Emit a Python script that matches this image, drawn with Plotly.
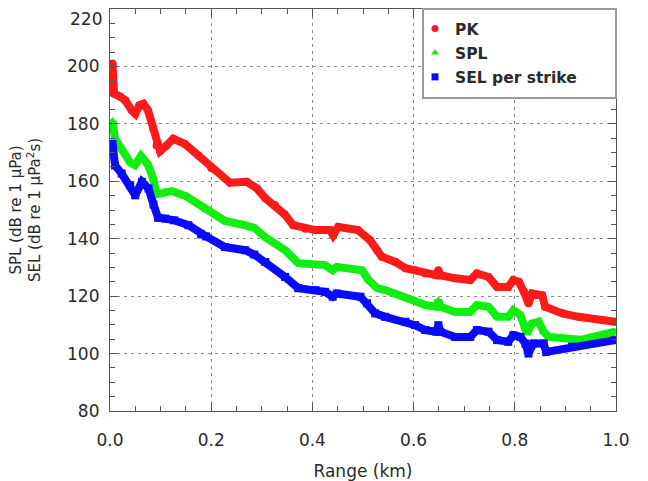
import plotly.graph_objects as go

# Range (km) and levels (dB) for each metric
pk_range = [0.005, 0.008, 0.02, 0.03, 0.043, 0.05, 0.058, 0.066, 0.075, 0.085, 0.092, 0.099,
            0.112, 0.125, 0.148, 0.175, 0.2, 0.237, 0.27, 0.29, 0.307, 0.326, 0.345, 0.362,
            0.386, 0.406, 0.435, 0.441, 0.451, 0.49, 0.514, 0.528, 0.537, 0.564, 0.584, 0.603,
            0.623, 0.645, 0.649, 0.653, 0.682, 0.712, 0.725, 0.748, 0.765, 0.787, 0.797, 0.808,
            0.818, 0.827, 0.834, 0.854, 0.86, 0.894, 0.926, 0.973, 0.998]
pk_level = [201, 190.5, 189.5, 188.2, 184.7, 183.5, 186.5, 187, 184.7, 178.4, 172.5, 170.5,
            172.5, 174.8, 173, 169, 164.6, 159.5, 159.8, 157.6, 154.1, 151.7, 148.5, 144.7,
            143.5, 143, 143, 141.2, 144.1, 143, 139.5, 136, 133.7, 131.9, 129.7, 129,
            127.9, 127.3, 129, 127.3, 126.2, 125.6, 127.9, 126.7, 123.2, 123.2, 125.6, 125,
            121.5, 117.5, 120.9, 120.3, 116.3, 114, 112.8, 111.7, 111.1]

spl_range = [0.005, 0.01, 0.023, 0.04, 0.049, 0.061, 0.075, 0.086, 0.092, 0.108, 0.122, 0.15,
             0.175, 0.19, 0.227, 0.267, 0.285, 0.307, 0.346, 0.372, 0.406, 0.425, 0.44, 0.448,
             0.498, 0.511, 0.528, 0.544, 0.584, 0.603, 0.623, 0.645, 0.649, 0.653, 0.682, 0.712,
             0.725, 0.748, 0.765, 0.787, 0.797, 0.811, 0.824, 0.834, 0.847, 0.857, 0.867, 0.93,
             0.998]
spl_level = [181, 174.8, 171.2, 166.5, 165.6, 168.8, 165.8, 160.6, 155.5, 156.3, 156.6, 154.8,
             152.2, 150, 146.2, 144.7, 143.8, 140.5, 136, 131.5, 130.8, 130.8, 129, 130.2,
             129, 125.6, 122.8, 122.1, 119.5, 118, 116.9, 116.3, 118.6, 116.3, 114.5, 114.5,
             116.9, 116.3, 112.8, 112.8, 115.1, 113.4, 107, 110.5, 111.1, 107.6, 105.8, 104.8,
             107.6]

sel_range = [0.005, 0.01, 0.023, 0.04, 0.05, 0.063, 0.076, 0.086, 0.095, 0.109, 0.127, 0.155,
             0.18, 0.19, 0.227, 0.267, 0.285, 0.307, 0.346, 0.372, 0.406, 0.425, 0.44, 0.448,
             0.495, 0.508, 0.524, 0.544, 0.584, 0.603, 0.623, 0.645, 0.649, 0.653, 0.682, 0.712,
             0.725, 0.748, 0.765, 0.787, 0.797, 0.811, 0.821, 0.827, 0.837, 0.857, 0.862, 0.913,
             0.998]
sel_level = [173, 165.5, 162.7, 158.6, 155.1, 159.8, 157.5, 151.9, 147.3, 147, 146.4, 144.7,
             141.5, 140.8, 137.1, 136, 134.5, 131.9, 126.7, 122.8, 122.1, 121.5, 119.8, 120.9,
             119.8, 117.5, 114, 112.8, 111.1, 109.9, 108.2, 107.6, 109.9, 107.6, 105.8, 105.8,
             108.2, 107.6, 104.7, 104.1, 106.4, 105.8, 103.5, 100, 103.5, 103.5, 100.6, 102.4,
             104.7]

series = [
    ("PK", pk_range, pk_level, "#ff1a1a", "circle"),
    ("SPL", spl_range, spl_level, "#11ee11", "triangle-up"),
    ("SEL per strike", sel_range, sel_level, "#0a0aff", "square"),
]

x_ticks = [0.0, 0.2, 0.4, 0.6, 0.8, 1.0]
y_ticks = [80, 100, 120, 140, 160, 180, 200, 220]

FONT = "DejaVu Sans, Verdana, sans-serif"
TEXT = "#2a2a2a"

fig = go.Figure()
for name, xs, ys, color, symbol in series:
    fig.add_trace(go.Scatter(
        x=xs, y=ys, mode="lines+markers", showlegend=False,
        line=dict(color=color, width=8),
        marker=dict(color=color, size=8, symbol=symbol),
        hoverinfo="skip",
    ))
    # legend entry shown as a marker only
    fig.add_trace(go.Scatter(
        x=[None], y=[None], mode="markers", name=name, legendgroup=name,
        marker=dict(color=color, size=7, symbol=symbol),
    ))

axis_common = dict(
    showline=True, linecolor="#555", linewidth=1.2, mirror="allticks",
    ticks="inside", ticklen=8, tickcolor="#555",
    showgrid=True, gridcolor="#8c8c8c", gridwidth=1, griddash="3px,4px",
    zeroline=False, automargin=False,
    tickfont=dict(family=FONT, size=17, color=TEXT),
)

fig.update_xaxes(
    range=[0, 1.0], tickvals=x_ticks, ticktext=[f"{v:.1f}" for v in x_ticks],
    minor=dict(dtick=0.05, ticks="inside", ticklen=5, tickcolor="#555", showgrid=False),
    title=dict(text="Range (km)", standoff=20,
               font=dict(family=FONT, size=17, color=TEXT)),
    ticklabelstandoff=13,
    **axis_common,
)

# the top label sits just below the frame, so it is written separately
y_text = [str(v) if v != y_ticks[-1] else "" for v in y_ticks]
fig.update_yaxes(
    range=[80, 220], tickvals=y_ticks, ticktext=y_text,
    minor=dict(dtick=5, ticks="inside", ticklen=5, tickcolor="#555", showgrid=False),
    title=dict(text="SPL (dB re 1 μPa)<br>SEL (dB re 1 μPa<sup>2</sup>s)", standoff=22,
               font=dict(family=FONT, size=15, color=TEXT)),
    ticklabelstandoff=6,
    **axis_common,
)
fig.add_annotation(
    x=0, xref="paper", y=y_ticks[-1], yref="y", text=str(y_ticks[-1]),
    showarrow=False, xanchor="right", yanchor="middle", xshift=-6, yshift=-10,
    font=dict(family=FONT, size=17, color=TEXT),
)

# white legend frame in the upper-right corner of the plotting area
fig.add_shape(
    type="rect", xref="paper", yref="paper",
    x0=0.6186, x1=1.0, y0=0.7786, y1=1.0,
    line=dict(color="#9a9a9a", width=2), fillcolor="white", layer="above",
)

fig.update_layout(
    width=648, height=481,
    margin=dict(l=110, r=32, t=9, b=70, autoexpand=False),
    paper_bgcolor="white", plot_bgcolor="white",
    legend=dict(
        x=0.6028, y=0.9925, xanchor="left", yanchor="top",
        bgcolor="rgba(0,0,0,0)", borderwidth=0,
        font=dict(family=FONT, size=15.5, color=TEXT, weight="bold"),
        itemwidth=30, traceorder="grouped", tracegroupgap=1,
    ),
)

fig.write_html("out.html")
